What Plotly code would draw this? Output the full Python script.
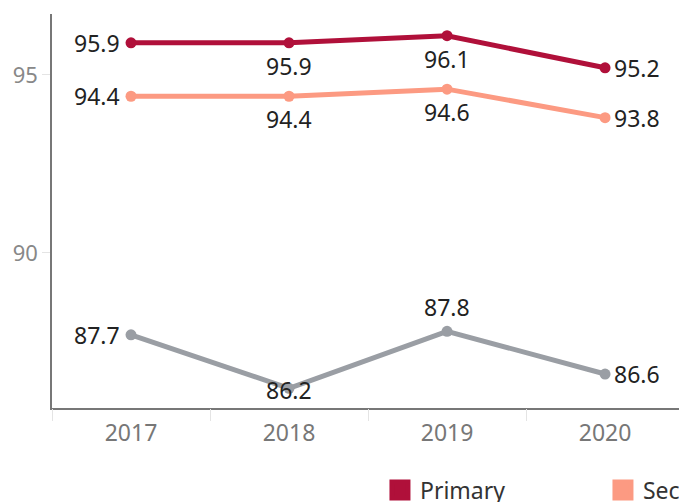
import plotly.graph_objects as go

years = ["2017", "2018", "2019", "2020"]
primary = [95.9, 95.9, 96.1, 95.2]
secondary = [94.4, 94.4, 94.6, 93.8]
other = [87.7, 86.2, 87.8, 86.6]
series_names = ["Primary", "Secondary", "Other"]
y_ticks = [90, 95]

colors = ["#b0103a", "#fc9a82", "#9a9ea4"]
pos_top = ["left", "below", "below", "right"]
pos_other = ["left", "on", "above", "right"]

xs = list(range(len(years)))
bands = [i - 0.5 for i in range(len(years) + 1)]
FONT = "Noto Sans"
XR = [-0.5, 3.468]

# label placement styles (anchor + pixel offset)
STYLE = {
    "left": dict(xanchor="right", yanchor="middle", xshift=-9, yshift=0),
    "right": dict(xanchor="left", yanchor="middle", xshift=7, yshift=0),
    "below": dict(xanchor="center", yanchor="middle", xshift=0, yshift=-23),
    "above": dict(xanchor="center", yanchor="middle", xshift=0, yshift=24),
    "on": dict(xanchor="center", yanchor="middle", xshift=0, yshift=-2),
}

fig = go.Figure()
for vals, col, name, pos in [
    (primary, colors[0], series_names[0], pos_top),
    (secondary, colors[1], series_names[1], pos_top),
    (other, colors[2], series_names[2], pos_other),
]:
    fig.add_trace(go.Scatter(
        x=xs, y=vals, mode="lines+markers", name=name,
        line=dict(color=col, width=5), marker=dict(color=col, size=11),
        showlegend=False, cliponaxis=False,
    ))
    for xi, v, p in zip(xs, vals, pos):
        fig.add_annotation(
            x=xi, y=v, text=f"{v:.1f}", showarrow=False,
            font=dict(family=FONT, size=23, color="#222"), **STYLE[p],
        )

# invisible trace so the band-divider axis is drawn
fig.add_trace(go.Scatter(x=[None], y=[None], xaxis="x2", showlegend=False,
                         hoverinfo="skip"))

# legend entries (square swatches)
for col, name in zip(colors[:2], series_names[:2]):
    fig.add_trace(go.Scatter(
        x=[None], y=[None], mode="markers", name=name,
        marker=dict(color=col, size=16, symbol="square",
                    line=dict(color=col, width=5)),
        showlegend=True,
    ))

fig.update_layout(
    width=679, height=502,
    margin=dict(l=52, r=0, t=14, b=94),
    plot_bgcolor="white", paper_bgcolor="white",
    font=dict(family=FONT, color="#333"),
    xaxis=dict(
        range=XR, tickvals=xs, ticktext=years,
        showgrid=False, zeroline=False, showline=True, linecolor="#777", linewidth=1.5,
        ticks="", ticklabelstandoff=4,
        tickfont=dict(family=FONT, size=23, color="#777"),
    ),
    xaxis2=dict(
        overlaying="x", range=XR, side="bottom",
        tickvals=bands, showticklabels=False,
        ticks="outside", ticklen=12, tickcolor="#e4e4e4", tickwidth=1,
        showgrid=False, zeroline=False, showline=False,
    ),
    yaxis=dict(
        range=[85.646, 96.71], tickvals=y_ticks,
        showgrid=False, zeroline=False, showline=True, linecolor="#777", linewidth=1.5,
        ticks="outside", ticklen=8, tickcolor="#e4e4e4",
        tickfont=dict(family=FONT, size=22, color="#888"),
    ),
    legend=dict(
        orientation="h", xref="container", yref="container",
        x=0.5596, y=0.024, xanchor="left", yanchor="middle",
        font=dict(family=FONT, size=23, color="#333"),
        entrywidth=178, entrywidthmode="pixels", itemsizing="trace",
    ),
)

page_css = ("document.documentElement.style.overflow='hidden';"
            "document.body.style.margin='0';"
            "document.body.style.overflow='hidden';")
fig.write_html("out.html", post_script=page_css,
               config={"displayModeBar": False})
